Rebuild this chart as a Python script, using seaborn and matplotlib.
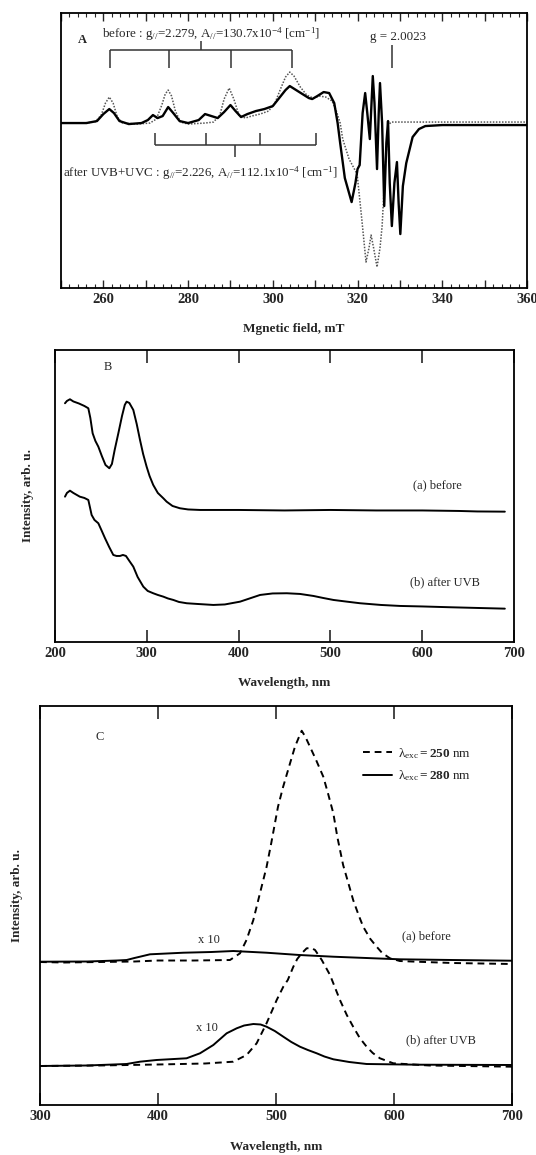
import numpy as np
import pandas as pd
import matplotlib
matplotlib.use("Agg")
import matplotlib.pyplot as plt
from matplotlib.ticker import MultipleLocator, FuncFormatter
from matplotlib.lines import Line2D
import seaborn as sns

sns.set_style("white")
plt.rcParams['font.family'] = ['Liberation Serif', 'DejaVu Serif']
plt.rcParams['mathtext.fontset'] = 'custom'
plt.rcParams['mathtext.rm'] = 'Liberation Serif'
plt.rcParams['mathtext.it'] = 'Liberation Serif:italic'
plt.rcParams['mathtext.bf'] = 'Liberation Serif:bold'

# ---------------- panel A : EPR spectra ----------------
epr_before_x = [250, 255, 258, 259.5, 260.5, 261.4, 262.3, 263.3, 264.5, 268, 271, 272.5, 273.8,
                274.6, 275.3, 276.1, 277, 278.2, 280, 284, 286, 287.5, 288.5, 289.7, 290.8, 292,
                293.5, 295, 297, 299, 300.5, 302, 303, 304, 305, 306.5, 308, 309.5, 311, 312.5,
                314, 315, 315.9, 316.5, 318, 319.9, 321, 322, 322.7, 323.2, 323.8, 324.6, 325.3,
                325.8, 326.5, 327.2, 328, 330, 360]
epr_before_y = [0, 0, 1, 8, 20, 26, 20, 6, 0, -1, 0, 4, 18,
                29, 33, 27, 12, 1, -1, 0, 1, 8, 24, 35, 24, 8,
                5, 7, 9, 12, 20, 36, 46, 51, 47, 36, 28, 25, 27, 26,
                22, 12, 0, -16, -36, -51, -96, -139, -125, -112, -125, -144, -125,
                -103, -46, -2, 1, 1, 1]

epr_after_x = [250, 256, 258.5, 260, 261.4, 262.5, 263.8, 266, 269, 270.5, 271.7, 272.8, 274,
               275.3, 276.5, 278, 280, 282.5, 284, 285.5, 287, 288.5, 290, 291.2, 292.5, 294,
               296, 298, 300, 301.5, 303, 304, 305.5, 307, 308.5, 309.3, 310.5, 312, 313.3,
               314.5, 315.3, 315.9, 317, 318.6, 319.5, 320, 320.5, 321.2, 321.8, 322.3, 322.9,
               323.3, 323.6, 324, 324.6, 325, 325.3, 325.8, 326.3, 326.8, 327.2, 327.6, 328.1,
               328.7, 329.3, 329.7, 330.1, 330.7, 331.5, 333, 334.5, 336, 340, 360]
epr_after_y = [0, 0, 2, 9, 14, 10, 2, -1, 0, 3, 8, 5, 7,
               16, 10, 2, 0, 3, 9, 7, 5, 11, 18, 12, 6, 9,
               12, 14, 17, 25, 33, 37, 33, 29, 25, 24, 27, 31, 30,
               20, 0, -20, -55, -79, -60, -46, -42, 10, 30, 10, -16,
               20, 47, 20, -46, 10, 40, 0, -83, -20, 2, -60, -103,
               -60, -39, -80, -111, -63, -40, -14, -6, -3, -2, -2]

before_comb = [261.6, 275.5, 290.1, 304.5]
after_comb = [272.2, 284.2, 297.0, 310.1]
g_free = 328.1

# ---------------- panel B : absorption ----------------
abs_before_x = [210.9, 213, 216.3, 220, 226, 232, 236.3, 238.5, 241, 244, 247.2, 251, 255, 259.2,
                262, 265, 269, 273, 276, 278, 281, 285.3, 289, 292.6, 296, 299.8, 303, 307, 312,
                318, 321.6, 328, 336, 345, 358, 400, 450, 500, 550, 600, 640, 660, 690]
abs_before_y = [238.7, 241, 242.7, 240.5, 238.5, 236, 233.7, 224, 208.7, 201, 195.3, 186, 177, 173.7,
                178, 192, 208.7, 226, 237, 240.3, 239, 232, 218, 202, 188, 175.3, 166, 157, 149,
                143.7, 140.3, 136, 133.7, 132.5, 132, 132, 131.5, 132, 131.5, 131.5, 131, 130.5, 130.3]

abs_after_x = [210.9, 213, 216.3, 220, 227, 232, 236.3, 238, 239.9, 243, 247.2, 250.5, 254.5, 259,
               263.5, 267, 270.8, 274, 277.3, 281, 285.3, 290, 296.2, 301, 307, 312, 318, 323,
               328.9, 335, 343.5, 355, 372.5, 385, 401.6, 412, 423.4, 437, 452.5, 467, 481.5, 492,
               503.3, 518, 532.4, 555, 576, 600, 630.4, 660, 690]
abs_after_y = [145.3, 149, 151.3, 149, 145.3, 144, 142, 135, 127, 122, 118.7, 112, 103.7, 95,
               87, 86, 86, 87, 86, 81, 75.3, 65, 55.3, 51, 48.7, 47, 45.3, 43.5,
               42, 40, 38.7, 38, 37, 37.5, 40.3, 43.5, 47, 48.5, 48.7, 48, 46, 44,
               42, 40.3, 38.7, 37, 36, 35.5, 34.7, 34, 33.3]

# ---------------- panel C : emission ----------------
em_a250_x = [300, 320, 350, 380, 400, 430, 461, 469.5, 475, 480.8, 486.4, 492, 496, 501.7, 506,
             511.9, 516, 519, 521.8, 525, 528.8, 534, 540.1, 544, 548.6, 552, 556.9, 561.3,
             565.4, 570, 573.9, 580, 585.3, 590, 596.6, 605, 619.2, 650, 700]
em_a250_y = [143, 142.5, 143, 143.5, 144.5, 144.5, 145, 151.7, 165, 185, 211.7, 238, 262, 298.3, 318,
             341.7, 358, 366.7, 374.3, 368, 358.3, 345, 328.3, 312, 291.7, 268, 240, 222,
             205, 190, 178.3, 166, 158.3, 152, 146.7, 144, 143.3, 142, 141]

em_a280_x = [300, 340, 365, 373.4, 380, 384.7, 393.2, 421.5, 445, 463.8, 492, 520, 548.6, 605, 650, 700]
em_a280_y = [143.3, 143.5, 144.5, 145, 147, 148.3, 150.7, 152.3, 153, 154, 152.3, 150, 148.3, 145.7, 145, 144.3]

em_b250_x = [300, 350, 400, 440, 463.8, 475.1, 483.6, 492, 500.6, 506.2, 510, 514.7, 518, 521.8,
             526, 530, 533.1, 538.8, 545.8, 554.2, 560, 565.4, 571, 576.8, 582, 588.1, 599.4, 630, 700]
em_b250_y = [39, 39.5, 40.5, 41.5, 43.3, 50, 61.7, 81.7, 105, 118.3, 125, 138.3, 146, 151.7,
             156.7, 157, 155, 145, 130, 105, 90, 78.3, 67, 58.3, 52, 46.7, 41.7, 39.5, 38.3]

em_b280_x = [300, 340, 373.4, 384.7, 398.8, 424.2, 435.6, 446.9, 458.2, 466.7, 473, 480.8, 487, 492,
             499, 506.2, 513, 520.3, 527, 534.5, 541, 548.6, 562, 576.8, 620, 700]
em_b280_y = [39, 39.5, 41, 43.3, 45, 46.7, 51.7, 60, 71.7, 76.7, 79.5, 81, 80.5, 78.3,
             74, 68.3, 63, 58.3, 55, 51.7, 48.5, 45.7, 43, 41, 40.3, 40]

fig = plt.figure(figsize=(5.36, 11.55), dpi=100)
axA = fig.add_axes([0.1138, 0.7506, 0.8694, 0.2381])
axB = fig.add_axes([0.1026, 0.4442, 0.8564, 0.2528])
axC = fig.add_axes([0.0746, 0.0433, 0.8806, 0.3454])

lab_font = dict(fontsize=9.5, fontweight='bold')


def frame(ax):
    for s in ax.spines.values():
        s.set_linewidth(1.3)
        s.set_color('black')
    ax.set_yticks([])
    ax.set_ylabel('')
    for lbl in ax.get_xticklabels():
        lbl.set_fontweight('bold')
        lbl.set_fontsize(10.5)


# ----- A -----
sns.lineplot(x=epr_before_x, y=epr_before_y, ax=axA, color='#555555', lw=1.1,
             linestyle=(0, (1, 1)), estimator=None, sort=False)
sns.lineplot(x=epr_after_x, y=epr_after_y, ax=axA, color='black', lw=1.7,
             estimator=None, sort=False)
axA.set_xlim(250, 360)
axA.set_ylim(-165, 110)
axA.xaxis.set_major_locator(MultipleLocator(10))
axA.xaxis.set_minor_locator(MultipleLocator(2))
axA.xaxis.set_major_formatter(FuncFormatter(lambda v, p: f"{v:.0f}" if v % 20 == 0 and v > 250 else ""))
axA.tick_params(axis='x', which='major', direction='in', top=True, bottom=True, length=6, width=1)
axA.tick_params(axis='x', which='minor', direction='in', top=True, bottom=True, length=3, width=0.8)
frame(axA)
axA.set_xlabel('Mgnetic field, mT', **lab_font)
axA.xaxis.set_label_coords(0.5, -0.128)

axA.hlines(73, before_comb[0], before_comb[-1], color='#333333', lw=1.1)
axA.vlines(before_comb, 55, 73, color='#333333', lw=1.1)
axA.vlines(np.mean([before_comb[0], before_comb[-1]]), 73, 82, color='#333333', lw=1.1)
axA.text(285.5, 89, r'before : g$_{//}$=2.279, A$_{//}$=130.7x10$^{-4}$ [cm$^{-1}$]',
         ha='center', va='center', fontsize=9.4)
axA.hlines(-22, after_comb[0], after_comb[-1], color='#333333', lw=1.1)
axA.vlines(after_comb, -22, -10, color='#333333', lw=1.1)
axA.vlines(np.mean([after_comb[0], after_comb[-1]]), -34, -22, color='#333333', lw=1.1)
axA.text(250.4, -50, r'after UVB+UVC : g$_{//}$=2.226, A$_{//}$=112.1x10$^{-4}$ [cm$^{-1}$]',
         ha='left', va='center', fontsize=9.4)
axA.vlines(g_free, 55, 78, color='#333333', lw=1.1)
axA.text(329.5, 86, 'g = 2.0023', ha='center', va='center', fontsize=9.4)
axA.text(255, 83, 'A', ha='center', va='center', fontsize=9, fontweight='bold')

# ----- B -----
sns.lineplot(x=abs_before_x, y=abs_before_y, ax=axB, color='black', lw=1.4, estimator=None, sort=False)
sns.lineplot(x=abs_after_x, y=abs_after_y, ax=axB, color='black', lw=1.4, estimator=None, sort=False)
axB.set_xlim(200, 700)
axB.set_ylim(0, 292)
axB.xaxis.set_major_locator(MultipleLocator(100))
axB.tick_params(axis='x', which='major', direction='in', top=True, bottom=True, length=9, width=1.2)
frame(axB)
axB.set_xlabel('Wavelength, nm', **lab_font)
axB.xaxis.set_label_coords(0.5, -0.12)
axB.set_ylabel('Intensity, arb. u.', **lab_font)
axB.yaxis.set_label_coords(-0.046, 0.5)
axB.text(257.7, 275, 'B', ha='center', va='center', fontsize=9)
axB.text(617, 157, '(a) before', ha='center', va='center', fontsize=9)
axB.text(625, 60, '(b) after UVB', ha='center', va='center', fontsize=9)

# ----- C -----
sns.lineplot(x=em_a250_x, y=em_a250_y, ax=axC, color='black', lw=1.4, linestyle=(0, (3.5, 2.5)),
             estimator=None, sort=False)
sns.lineplot(x=em_a280_x, y=em_a280_y, ax=axC, color='black', lw=1.4, estimator=None, sort=False)
sns.lineplot(x=em_b250_x, y=em_b250_y, ax=axC, color='black', lw=1.4, linestyle=(0, (3.5, 2.5)),
             estimator=None, sort=False)
sns.lineplot(x=em_b280_x, y=em_b280_y, ax=axC, color='black', lw=1.4, estimator=None, sort=False)
axC.set_xlim(300, 700)
axC.set_ylim(0, 399)
axC.xaxis.set_major_locator(MultipleLocator(100))
axC.tick_params(axis='x', which='major', direction='in', top=True, bottom=True, length=9, width=1.2)
frame(axC)
axC.set_xlabel('Wavelength, nm', **lab_font)
axC.xaxis.set_label_coords(0.5, -0.09)
axC.set_ylabel('Intensity, arb. u.', **lab_font)
axC.yaxis.set_label_coords(-0.036, 0.526)
axC.text(350.8, 367.7, 'C', ha='center', va='center', fontsize=9)
axC.text(442.8, 165, 'x 10', ha='center', va='center', fontsize=9)
axC.text(441.5, 76.7, 'x 10', ha='center', va='center', fontsize=9)
axC.text(627.7, 169, '(a) before', ha='center', va='center', fontsize=9)
axC.text(639.5, 65, '(b) after UVB', ha='center', va='center', fontsize=9)

handles = [Line2D([], [], color='black', lw=1.4, linestyle=(0, (3.5, 2.5))),
           Line2D([], [], color='black', lw=1.4)]
labels = [r'λ$_{\rm exc}$$\mathbf{= 250}$ nm', r'λ$_{\rm exc}$$\mathbf{= 280}$ nm']
axC.legend(handles, labels, loc='upper left', bbox_to_anchor=(0.66, 0.93), frameon=False,
           fontsize=9.5, handlelength=2.2, handletextpad=0.4, labelspacing=0.6)

fig.savefig('out.png', dpi=100)
